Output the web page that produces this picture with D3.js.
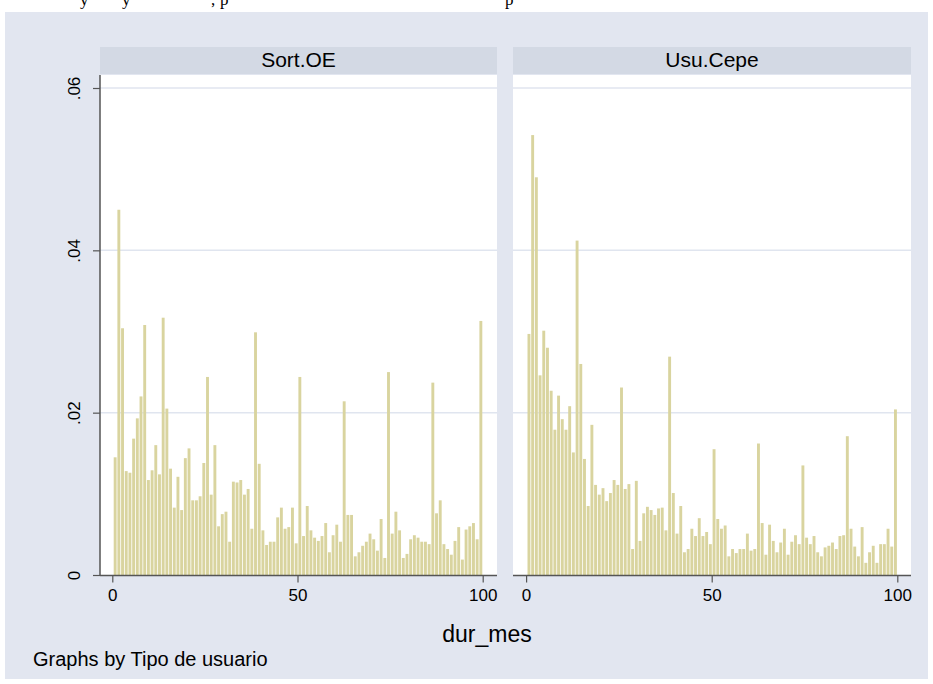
<!DOCTYPE html>
<html>
<head>
  <style>
  body { margin: 0; background: #ffffff; }
  #chart svg { display: block; font-family: "Liberation Sans", Arial, sans-serif; }
  </style>
</head>
<body>
  <script src="https://d3js.org/d3.v7.min.js"></script>
  <div id="chart"></div>
  <script>
    // panels of the by() histogram
    const panels = ['Sort.OE', 'Usu.Cepe'];

    // density per one-month bin, bins from dur_mes 0.27 to 100
    const sortOE = [
      0.0145, 0.0450, 0.0304, 0.0128, 0.0126, 0.0168, 0.0193, 0.0220, 0.0308, 0.0117,
      0.0129, 0.0160, 0.0124, 0.0317, 0.0205, 0.0131, 0.0083, 0.0121, 0.0080, 0.0144,
      0.0156, 0.0092, 0.0092, 0.0097, 0.0138, 0.0244, 0.0099, 0.0160, 0.0060, 0.0075,
      0.0078, 0.0041, 0.0115, 0.0114, 0.0117, 0.0099, 0.0106, 0.0057, 0.0299, 0.0137,
      0.0055, 0.0037, 0.0041, 0.0041, 0.0071, 0.0083, 0.0057, 0.0059, 0.0083, 0.0039,
      0.0244, 0.0048, 0.0085, 0.0055, 0.0046, 0.0042, 0.0048, 0.0064, 0.0028, 0.0049,
      0.0062, 0.0041, 0.0214, 0.0074, 0.0074, 0.0023, 0.0028, 0.0036, 0.0041, 0.0051,
      0.0044, 0.0030, 0.0069, 0.0021, 0.0250, 0.0051, 0.0078, 0.0055, 0.0021, 0.0026,
      0.0044, 0.0049, 0.0046, 0.0041, 0.0041, 0.0038, 0.0237, 0.0076, 0.0092, 0.0038,
      0.0032, 0.0025, 0.0042, 0.0059, 0.0019, 0.0056, 0.0060, 0.0064, 0.0044, 0.0313
    ];
    const usuCepe = [
      0.0297, 0.0542, 0.0490, 0.0246, 0.0301, 0.0280, 0.0227, 0.0179, 0.0221, 0.0192,
      0.0179, 0.0208, 0.0151, 0.0412, 0.0260, 0.0143, 0.0085, 0.0185, 0.0111, 0.0099,
      0.0107, 0.0091, 0.0101, 0.0117, 0.0111, 0.0231, 0.0106, 0.0112, 0.0032, 0.0116,
      0.0042, 0.0076, 0.0084, 0.0080, 0.0074, 0.0082, 0.0083, 0.0055, 0.0269, 0.0101,
      0.0051, 0.0085, 0.0028, 0.0032, 0.0057, 0.0048, 0.0070, 0.0048, 0.0053, 0.0038,
      0.0155, 0.0069, 0.0057, 0.0061, 0.0023, 0.0032, 0.0027, 0.0032, 0.0032, 0.0051,
      0.0030, 0.0032, 0.0162, 0.0064, 0.0025, 0.0062, 0.0042, 0.0028, 0.0040, 0.0057,
      0.0025, 0.0041, 0.0049, 0.0038, 0.0135, 0.0046, 0.0038, 0.0048, 0.0028, 0.0023,
      0.0034, 0.0036, 0.0040, 0.0032, 0.0048, 0.0049, 0.0171, 0.0057, 0.0035, 0.0023,
      0.0059, 0.0015, 0.0028, 0.0036, 0.0015, 0.0038, 0.0038, 0.0057, 0.0035, 0.0204
    ];
    const series = [sortOE, usuCepe];

    const binStart = 0.27;
    const binEnd = 100;

    const yTicks = [0, 0.02, 0.04, 0.06];
    const yTickLabels = ['0', '.02', '.04', '.06'];
    const xTicks = [0, 50, 100];

    const xTitle = 'dur_mes';
    const note = 'Graphs by Tipo de usuario';

    const width = 933, height = 684;
    const bgColor = '#e2e6f0';
    const stripColor = '#d3d9e4';
    const gridColor = '#e0e5ef';
    const barColor = '#d9d49f';
    const axisColor = '#555555';

    const svg = d3.select('#chart').append('svg')
      .attr('width', width)
      .attr('height', height);

    // page fragments above the graph (cropped text line)
    const crop = svg.append('g').attr('class', 'crop')
      .style('font-family', '"Liberation Serif", "Times New Roman", serif')
      .style('font-size', '17px')
      .style('fill', '#000');
    [['y', 80], ['y', 122], [',', 211], ['p', 220], ['p', 505]].forEach(d => {
      crop.append('text').attr('x', d[1]).attr('y', 5).text(d[0]);
    });

    // graph region
    svg.append('rect')
      .attr('x', 5).attr('y', 12)
      .attr('width', 923).attr('height', 667)
      .attr('fill', bgColor);

    const plotTop = 75, plotBottom = 575;
    const panelBox = [
      {left: 100, right: 497, x0: 112.3, x100: 482.7},
      {left: 513, right: 911, x0: 526.1, x100: 897.3}
    ];

    const y = d3.scaleLinear().domain([0, 0.06]).range([plotBottom, 88]);
    const binWidth = (binEnd - binStart) / 100;

    panels.forEach((name, p) => {
      const box = panelBox[p];
      const x = d3.scaleLinear().domain([0, 100]).range([box.x0, box.x100]);
      const g = svg.append('g').attr('class', 'panel');

      // strip
      g.append('rect')
        .attr('x', box.left).attr('y', 47)
        .attr('width', box.right - box.left).attr('height', 27)
        .attr('fill', stripColor);
      g.append('text')
        .attr('x', (box.left + box.right) / 2)
        .attr('y', 67)
        .attr('text-anchor', 'middle')
        .style('font-size', '21px')
        .text(name);

      // plot region
      g.append('rect')
        .attr('x', box.left).attr('y', plotTop)
        .attr('width', box.right - box.left).attr('height', plotBottom - plotTop)
        .attr('fill', '#ffffff');

      // gridlines
      g.append('g')
        .selectAll('line')
        .data(yTicks.filter(t => t > 0))
        .join('line')
        .attr('x1', box.left).attr('x2', box.right)
        .attr('y1', d => y(d)).attr('y2', d => y(d))
        .attr('stroke', gridColor)
        .attr('stroke-width', 1.5);

      // bars
      const bins = series[p].map((v, i) => ({
        x0: binStart + i * binWidth,
        x1: binStart + (i + 1) * binWidth,
        v: v
      }));
      g.append('g')
        .selectAll('rect')
        .data(bins)
        .join('rect')
        .attr('x', d => x(d.x0) + 0.4)
        .attr('width', d => x(d.x1) - x(d.x0) - 0.8)
        .attr('y', d => y(d.v))
        .attr('height', d => y(0) - y(d.v))
        .attr('fill', barColor);

      // x axis
      const xAxis = d3.axisBottom(x)
        .tickValues(xTicks)
        .tickSize(7)
        .tickPadding(6)
        .tickFormat(d3.format('d'));
      const xg = g.append('g')
        .attr('transform', `translate(0,${plotBottom + 0.5})`)
        .call(xAxis);
      xg.select('.domain').remove();
      xg.append('line')
        .attr('x1', box.left).attr('x2', box.right)
        .attr('stroke', axisColor).attr('stroke-width', 1.5);
      xg.selectAll('.tick line').attr('stroke', axisColor).attr('stroke-width', 1.2);
      xg.selectAll('.tick text')
        .style('font-size', '17px')
        .style('font-family', '"Liberation Sans", Arial, sans-serif')
        .attr('fill', '#000');
    });

    // shared y axis on the left panel
    const yAxis = d3.axisLeft(y)
      .tickValues(yTicks)
      .tickSize(7)
      .tickFormat((d, i) => yTickLabels[i]);
    const yg = svg.append('g')
      .attr('transform', `translate(${panelBox[0].left},0)`)
      .call(yAxis);
    yg.select('.domain').remove();
    yg.append('line')
      .attr('y1', plotTop).attr('y2', plotBottom + 0.5)
      .attr('stroke', axisColor).attr('stroke-width', 1.5);
    yg.selectAll('.tick line').attr('stroke', axisColor).attr('stroke-width', 1.2);
    yg.selectAll('.tick text')
      .attr('x', null).attr('dy', null)
      .attr('text-anchor', 'middle')
      .attr('transform', 'translate(-20,0) rotate(-90)')
      .style('font-size', '17px')
      .style('font-family', '"Liberation Sans", Arial, sans-serif')
      .attr('fill', '#000');

    // x title and note
    svg.append('text')
      .attr('x', 487).attr('y', 642)
      .attr('text-anchor', 'middle')
      .style('font-size', '23px')
      .text(xTitle);
    svg.append('text')
      .attr('x', 33).attr('y', 666)
      .style('font-size', '20px')
      .text(note);
  </script>
</body>
</html>
